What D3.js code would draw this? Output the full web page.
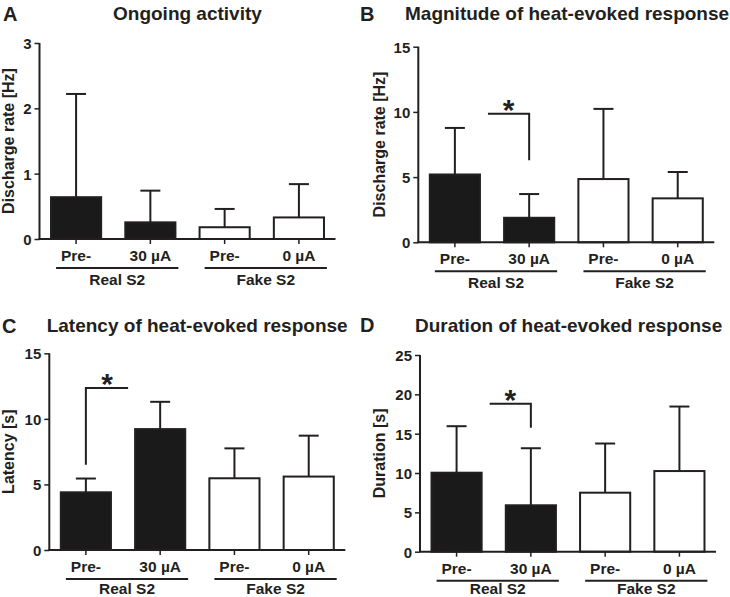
<!DOCTYPE html>
<html><head><meta charset="utf-8">
<script src="https://cdn.jsdelivr.net/npm/d3@7/dist/d3.min.js"></script>
<style>
html,body{margin:0;padding:0;background:#fff;}
svg text{font-family:"Liberation Sans",Arial,Helvetica,sans-serif;font-weight:bold;fill:#231f20;}
</style></head>
<body>
<svg id="chart" width="730" height="597"></svg>
<script>
// ---- data ----
const categories = ["Pre-", "30 µA", "Pre- ", "0 µA"];
const categoryLabels = ["Pre-", "30 µA", "Pre-", "0 µA"];
const groups = ["Real S2", "Fake S2"];
const filled = [true, true, false, false];

const panelLetters = ["A", "B", "C", "D"];
const panelTitles = ["Ongoing activity", "Magnitude of heat-evoked response",
  "Latency of heat-evoked response", "Duration of heat-evoked response"];
const yTitles = ["Discharge rate [Hz]", "Discharge rate [Hz]", "Latency [s]", "Duration [s]"];
const yMax = [3, 15, 15, 25];
const yTicksA = [0, 1, 2, 3];
const yTicksB = [0, 5, 10, 15];
const yTicksC = [0, 5, 10, 15];
const yTicksD = [0, 5, 10, 15, 20, 25];

const meanA = [0.64, 0.255, 0.18, 0.33];
const errA  = [2.22, 0.74, 0.46, 0.84];
const meanB = [5.2, 1.88, 4.85, 3.37];
const errB  = [8.77, 3.7, 10.23, 5.39];
const meanC = [4.4, 9.22, 5.47, 5.6];
const errC  = [5.45, 11.3, 7.75, 8.72];
const meanD = [10.04, 5.9, 7.5, 10.25];
const errD  = [15.95, 13.15, 13.75, 18.45];

// significance brackets: vertical end category, other category, bracket level, drop level
const sigB = {vert: 1, other: 0, level: 9.85, drop: 6.3};
const sigC = {vert: 0, other: 1, level: 12.35, drop: 6.5};
const sigD = {vert: 1, other: 0, level: 18.8, drop: 15.75};

const panels = [
  {mean: meanA, err: errA, ticks: yTicksA, sig: null, x0: 39.5, yTop: 43, yBot: 239, titleX: 113, letterX: 3, letterY: 21, titleY: 20, yLabX: 13.5},
  {mean: meanB, err: errB, ticks: yTicksB, sig: sigB, x0: 418.3, yTop: 46.7, yBot: 242.3, titleX: 405, letterX: 360, letterY: 21, titleY: 20, yLabX: 384.5},
  {mean: meanC, err: errC, ticks: yTicksC, sig: sigC, x0: 49.3, yTop: 353.3, yBot: 550, titleX: 46.7, letterX: 2, letterY: 333, titleY: 332, yLabX: 13.5},
  {mean: meanD, err: errD, ticks: yTicksD, sig: sigD, x0: 420, yTop: 355, yBot: 551.7, titleX: 415, letterX: 360, letterY: 332, titleY: 332, yLabX: 384.5}
];

const ink = "#231f20";
const svg = d3.select("#chart");

panels.forEach((p, pi) => {
  const g = svg.append("g");
  const plotW = 296;
  const x = d3.scaleBand().domain(categories).range([p.x0, p.x0 + plotW]).paddingInner(0.325).paddingOuter(0.155);
  const y = d3.scaleLinear().domain([0, yMax[pi]]).range([p.yBot, p.yTop]);

  // letter & title
  g.append("text").attr("x", p.letterX).attr("y", p.letterY).style("font-size", "20px").text(panelLetters[pi]);
  g.append("text").attr("x", p.titleX).attr("y", p.titleY).style("font-size", "19px").text(panelTitles[pi]);

  // y axis title
  g.append("text")
    .attr("transform", `translate(${p.yLabX},${(p.yTop + p.yBot) / 2}) rotate(-90)`)
    .attr("text-anchor", "middle").style("font-size", "16px").text(yTitles[pi]);

  // error bars
  categories.forEach((c, i) => {
    const cx = x(c) + x.bandwidth() / 2;
    g.append("line").attr("x1", cx).attr("x2", cx).attr("y1", y(p.mean[i])).attr("y2", y(p.err[i]))
      .attr("stroke", ink).attr("stroke-width", 2);
    g.append("line").attr("x1", cx - 10).attr("x2", cx + 10).attr("y1", y(p.err[i])).attr("y2", y(p.err[i]))
      .attr("stroke", ink).attr("stroke-width", 2);
  });

  // bars
  g.selectAll("rect.bar").data(categories).join("rect").attr("class", "bar")
    .attr("x", d => x(d)).attr("width", x.bandwidth())
    .attr("y", (d, i) => y(p.mean[i])).attr("height", (d, i) => p.yBot - y(p.mean[i]))
    .attr("fill", (d, i) => filled[i] ? "#1a1a1a" : "#fff")
    .attr("stroke", ink).attr("stroke-width", 2);

  // y axis
  const yAxis = d3.axisLeft(y).tickValues(p.ticks).tickSize(5).tickPadding(3).tickFormat(d3.format("d"));
  const ya = g.append("g").attr("transform", `translate(${p.x0},0)`).call(yAxis);
  ya.select(".domain").attr("d", `M0,${p.yTop}V${p.yBot}`).attr("stroke", ink).attr("stroke-width", 2);
  ya.selectAll(".tick line").attr("stroke", ink).attr("stroke-width", 1.5);
  ya.selectAll(".tick text").style("font-size", "15px").style("fill", ink).attr("dy", "0.36em");

  // x axis
  const xAxis = d3.axisBottom(x).tickSize(5).tickFormat((d, i) => categoryLabels[i]).tickPadding(4);
  const xa = g.append("g").attr("transform", `translate(0,${p.yBot})`).call(xAxis);
  xa.select(".domain").attr("d", `M${p.x0 - 1},0H${p.x0 + plotW}`).attr("stroke", ink).attr("stroke-width", 2);
  xa.selectAll(".tick line").attr("stroke", ink).attr("stroke-width", 1.5);
  xa.selectAll(".tick text").style("font-size", "15.5px").style("fill", ink).attr("y", 22).attr("dy", 0);

  // group underlines & labels
  groups.forEach((gr, k) => {
    const c1 = x(categories[2 * k]) + x.bandwidth() / 2;
    const c2 = x(categories[2 * k + 1]) + x.bandwidth() / 2;
    const xl = c1 - 20, xr = c2 + 28;
    g.append("line").attr("x1", xl).attr("x2", xr).attr("y1", p.yBot + 29).attr("y2", p.yBot + 29)
      .attr("stroke", ink).attr("stroke-width", 2);
    g.append("text").attr("x", (xl + xr) / 2).attr("y", Math.min(p.yBot + 45.5, 594)).attr("text-anchor", "middle")
      .style("font-size", "15.5px").text(gr);
  });

  // significance bracket
  if (p.sig) {
    const s = p.sig;
    const vx = x(categories[s.vert]) + x.bandwidth() / 2;
    const ox = s.other < s.vert ? x(categories[s.other]) + x.bandwidth() + 8 : x(categories[s.other]) - 7;
    const ly = y(s.level);
    g.append("path").attr("d", `M${ox},${ly}H${vx}V${y(s.drop)}`).attr("fill", "none")
      .attr("stroke", ink).attr("stroke-width", 2);
    g.append("text").attr("x", (ox + vx) / 2).attr("y", ly + 6).attr("text-anchor", "middle")
      .style("font-size", "30px").text("*");
  }
});
</script>
</body></html>
